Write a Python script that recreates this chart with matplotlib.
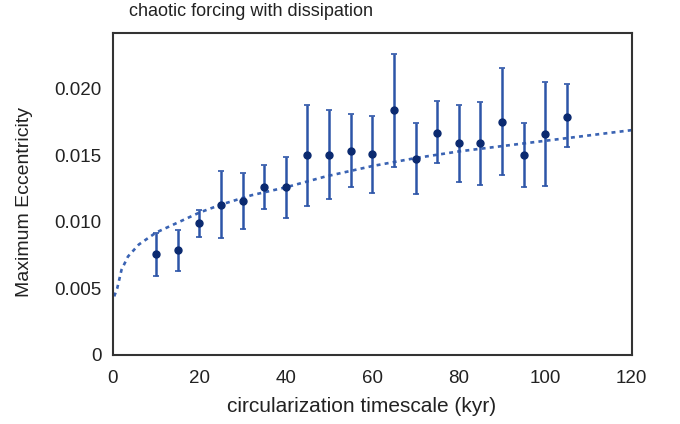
import matplotlib
matplotlib.use("Agg")
import matplotlib.pyplot as plt

plt.rcParams['font.family'] = ['Liberation Sans', 'DejaVu Sans']

# circularization timescale (kyr) and max eccentricity, with error bar ends
tau = [10, 15, 20, 25, 30, 35, 40, 45, 50, 55, 60, 65, 70, 75, 80, 85, 90, 95, 100, 105]
ecc = [0.0076, 0.0079, 0.0099, 0.0113, 0.0116, 0.0126, 0.0126, 0.0150, 0.0150, 0.0153,
       0.0151, 0.0184, 0.0147, 0.0167, 0.0159, 0.0159, 0.0175, 0.0150, 0.0166, 0.0179]
ecc_hi = [0.0092, 0.0094, 0.0109, 0.0138, 0.0137, 0.0143, 0.0149, 0.0188, 0.0184, 0.0181,
          0.0180, 0.0226, 0.0174, 0.0191, 0.0188, 0.0190, 0.0216, 0.0174, 0.0205, 0.0204]
ecc_lo = [0.0059, 0.0063, 0.0089, 0.0088, 0.0095, 0.0110, 0.0103, 0.0112, 0.0117, 0.0126,
          0.0122, 0.0141, 0.0121, 0.0144, 0.0130, 0.0128, 0.0135, 0.0126, 0.0127, 0.0156]

# dashed trend curve
fit_x = [0.3, 1, 2, 3.5, 6, 10, 16, 20, 25, 32, 40, 49, 60, 70, 80, 90, 100, 110, 120]
fit_y = [0.0044, 0.0050, 0.0064, 0.0074, 0.0083, 0.0092, 0.0101, 0.0107, 0.0113, 0.0120,
         0.0126, 0.0134, 0.0142, 0.0148, 0.0153, 0.0157, 0.0161, 0.0165, 0.0169]

yerr = [[e - l for e, l in zip(ecc, ecc_lo)], [h - e for e, h in zip(ecc, ecc_hi)]]

fig = plt.figure(figsize=(6.8, 4.24), dpi=100)
ax = fig.add_axes([0.166, 0.163, 0.763, 0.759])

ax.plot(fit_x, fit_y, linestyle=(0, (1.5, 1.6)), color='#3a63b3', linewidth=1.9)
ax.errorbar(tau, ecc, yerr=yerr, fmt='o', color='#0b2a70', markersize=5,
            ecolor='#2d55a8', elinewidth=1.8, capsize=2.5, capthick=1.2)

ax.set_xlim(0, 120)
ax.set_ylim(0, 0.0242)
ax.set_xticks([0, 20, 40, 60, 80, 100, 120])
ax.set_yticks([0, 0.005, 0.010, 0.015, 0.020])
ax.set_yticklabels(['0', '0.005', '0.010', '0.015', '0.020'])
ax.tick_params(length=0, labelsize=13.5, colors='#222222')
ax.tick_params(axis='y', pad=8)
ax.tick_params(axis='x', pad=11)
for s in ax.spines.values():
    s.set_color('#333333')
    s.set_linewidth(1.5)

ax.set_xlabel('circularization timescale (kyr)', fontsize=15, color='#222222', va='center')
ax.set_ylabel('Maximum Eccentricity', fontsize=14, color='#222222', va='center')
ax.xaxis.set_label_coords(0.48, -0.161)
ax.yaxis.set_label_coords(-0.170, 0.475)
fig.text(0.369, 0.972, 'chaotic forcing with dissipation', fontsize=13, ha='center',
         va='center', color='#222222')

fig.savefig('out.png', dpi=100)
